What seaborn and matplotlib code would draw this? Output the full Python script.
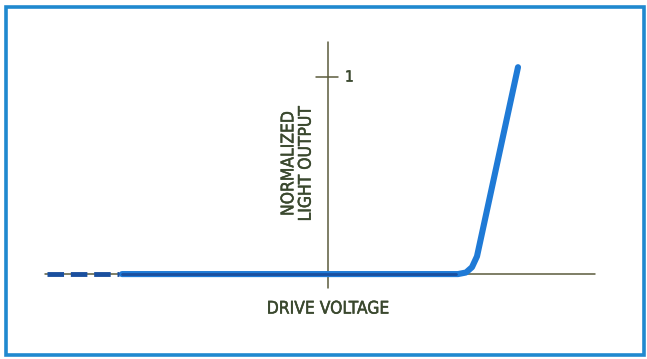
import matplotlib
matplotlib.use("Agg")
import matplotlib.pyplot as plt
import matplotlib.patheffects as pe
import seaborn as sns
import pandas as pd
from matplotlib.patches import Rectangle

# Transfer curve: normalized light output vs. drive voltage (arbitrary units)
drive_voltage = [-2.06, 1.30, 1.38, 1.44, 1.49, 1.90]
light_output = [0.0, 0.0, 0.008, 0.035, 0.09, 1.05]

# Dashed lead-in at the far left of the flat region
lead_voltage = [-2.81, -2.09]
lead_output = [0.0, 0.0]

x_label = "DRIVE VOLTAGE"
y_label = "NORMALIZED\nLIGHT OUTPUT"
y_tick_value = 1
y_tick_label = "1"

sns.set_theme(style="white")
plt.rcParams["font.family"] = ["DejaVu Sans"]

fig = plt.figure(figsize=(6.47, 3.59), dpi=100)
ax = fig.add_axes([0, 0, 1, 1])
ax.set_xlim(-3.28, 3.19)
ax.set_ylim(-0.431, 1.391)
ax.axis("off")

axis_color = "#5b5b3c"
text_color = "#3a482e"
thicken = [pe.withStroke(linewidth=0.35, foreground=text_color)]

# Frame
fig.patches.append(Rectangle((6 / 647, 4 / 359), 638 / 647, 348 / 359,
                             transform=fig.transFigure, fill=False,
                             edgecolor="#2089cf", linewidth=2.6))

# Axes lines
ax.plot([-2.83, 2.67], [0, 0], color=axis_color, lw=1.1, zorder=1)
ax.plot([0, 0], [-0.07, 1.18], color=axis_color, lw=1.1, zorder=1)
ax.plot([-0.12, 0.10], [y_tick_value, y_tick_value], color=axis_color, lw=1.1)
ax.text(0.17, y_tick_value, y_tick_label, color=text_color, fontsize=11,
        fontstretch="condensed", ha="left", va="center", path_effects=thicken)

# Curve
df = pd.DataFrame({"v": drive_voltage, "out": light_output})
sns.lineplot(data=df, x="v", y="out", ax=ax, color="#1f7ad6", lw=4.4,
             sort=False, solid_capstyle="round", solid_joinstyle="round",
             zorder=3)
ax.plot([-2.06, 1.28], [0, 0], color="#1a4f9e", lw=2.0, zorder=4)

lead = pd.DataFrame({"v": lead_voltage, "out": lead_output})
sns.lineplot(data=lead, x="v", y="out", ax=ax, color="#1a4f9e", lw=3.5,
             dashes=False, zorder=3, linestyle=(0, (3.4, 1.4)))

ax.text(-0.31, 0.56, y_label, rotation=90, ha="center", va="center",
        color=text_color, fontsize=12.5, fontstretch="condensed",
        linespacing=0.95, multialignment="center", path_effects=thicken)
ax.text(0.0, -0.175, x_label, ha="center", va="center", color=text_color,
        fontsize=12.5, fontstretch="condensed", path_effects=thicken)

fig.savefig("out.png", dpi=100)
